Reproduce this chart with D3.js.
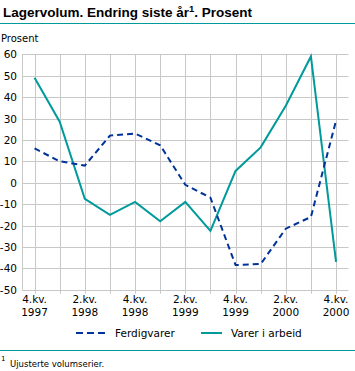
<!DOCTYPE html>
<html><head><meta charset="utf-8">
<script src="https://cdn.jsdelivr.net/npm/d3@7"></script>
<style>body{margin:0;background:#fff}svg{display:block;font-family:"DejaVu Sans",Verdana,sans-serif}</style>
</head><body><svg id="c" width="355" height="371"></svg>
<script>
const quarters = ["4.kv. 1997","1.kv. 1998","2.kv. 1998","3.kv. 1998","4.kv. 1998","1.kv. 1999","2.kv. 1999","3.kv. 1999","4.kv. 1999","1.kv. 2000","2.kv. 2000","3.kv. 2000","4.kv. 2000"];
const ferdigvarer = [16, 10, 8, 22, 23, 17.5, -1, -7, -38.5, -38, -21.5, -16, 29];
const varerIArbeid = [49, 28.5, -7.5, -15, -9, -18, -9, -22.5, 5.5, 16.5, 36, 59, -37];
const yTicks = [60,50,40,30,20,10,0,-10,-20,-30,-40,-50];

const svg = d3.select("#c");
const L = 22, R = 348.6, T = 54.3, B = 289.7;
const x = d3.scalePoint().domain(quarters).range([L, R]).padding(0.5);
const y = d3.scaleLinear().domain([-50, 60]).range([B, T]);
const teal = "#009a9a", blue = "#003399", grid = "#c8c8c8";

// title
const title = svg.append("text").attr("x", 3).attr("y", 17).attr("font-size", 13.5).attr("font-weight", "bold")
  .attr("font-family", "'Liberation Sans', Arial, sans-serif");
title.append("tspan").text("Lagervolum. Endring siste år");
title.append("tspan").attr("font-size", 9.5).attr("dy", -5).text("1");
title.append("tspan").attr("dy", 5).text(". Prosent");
svg.append("line").attr("x1", 0).attr("x2", 355).attr("y1", 23.5).attr("y2", 23.5).attr("stroke", teal).attr("stroke-width", 1);

svg.append("text").attr("x", 1).attr("y", 42).attr("font-size", 10).text("Prosent");

// grid
const g = svg.append("g");
g.selectAll(".hg").data(yTicks).join("line")
  .attr("x1", L).attr("x2", R).attr("y1", d => Math.round(y(d)) + 0.5).attr("y2", d => Math.round(y(d)) + 0.5)
  .attr("stroke", grid).attr("stroke-width", 1);
g.selectAll(".vg").data(quarters).join("line")
  .attr("x1", d => Math.round(x(d)) + 0.5).attr("x2", d => Math.round(x(d)) + 0.5)
  .attr("y1", T).attr("y2", B + 4).attr("stroke", grid).attr("stroke-width", 1);
g.append("line").attr("x1", L + 0.5).attr("x2", L + 0.5).attr("y1", T).attr("y2", B).attr("stroke", grid);

// y labels
svg.selectAll(".yl").data(yTicks).join("text")
  .attr("x", 17).attr("y", d => y(d) + 4).attr("text-anchor", "end").attr("font-size", 10.5).attr("fill", "#000")
  .text(d => d);

// x labels
const xl = svg.selectAll(".xl").data(quarters.filter((d, i) => i % 2 === 0)).join("text")
  .attr("text-anchor", "middle").attr("font-size", 10.5);
xl.append("tspan").attr("x", d => x(d)).attr("y", 303).text(d => d.split(" ")[0]);
xl.append("tspan").attr("x", d => x(d)).attr("y", 316).text(d => d.split(" ")[1]);

// lines
const line = (arr) => d3.line().x((d, i) => x(quarters[i])).y(d => y(d))(arr);
svg.append("path").attr("d", line(varerIArbeid)).attr("fill", "none").attr("stroke", teal).attr("stroke-width", 2);
svg.append("path").attr("d", line(ferdigvarer)).attr("fill", "none").attr("stroke", blue).attr("stroke-width", 2).attr("stroke-dasharray", "6,4");

// legend
svg.append("line").attr("x1", 76).attr("x2", 107).attr("y1", 333).attr("y2", 333).attr("stroke", blue).attr("stroke-width", 2).attr("stroke-dasharray", "7,4");
svg.append("text").attr("x", 115).attr("y", 337).attr("font-size", 10.5).text("Ferdigvarer");
svg.append("line").attr("x1", 201).attr("x2", 222).attr("y1", 333).attr("y2", 333).attr("stroke", teal).attr("stroke-width", 2);
svg.append("text").attr("x", 231).attr("y", 337).attr("font-size", 10.5).text("Varer i arbeid");

// footnote
svg.append("line").attr("x1", 0).attr("x2", 355).attr("y1", 350.5).attr("y2", 350.5).attr("stroke", teal).attr("stroke-width", 1);
svg.append("text").attr("x", 1).attr("y", 361).attr("font-size", 7).text("1");
svg.append("text").attr("x", 10).attr("y", 367).attr("font-size", 8.5).text("Ujusterte volumserier.");
</script></body></html>
